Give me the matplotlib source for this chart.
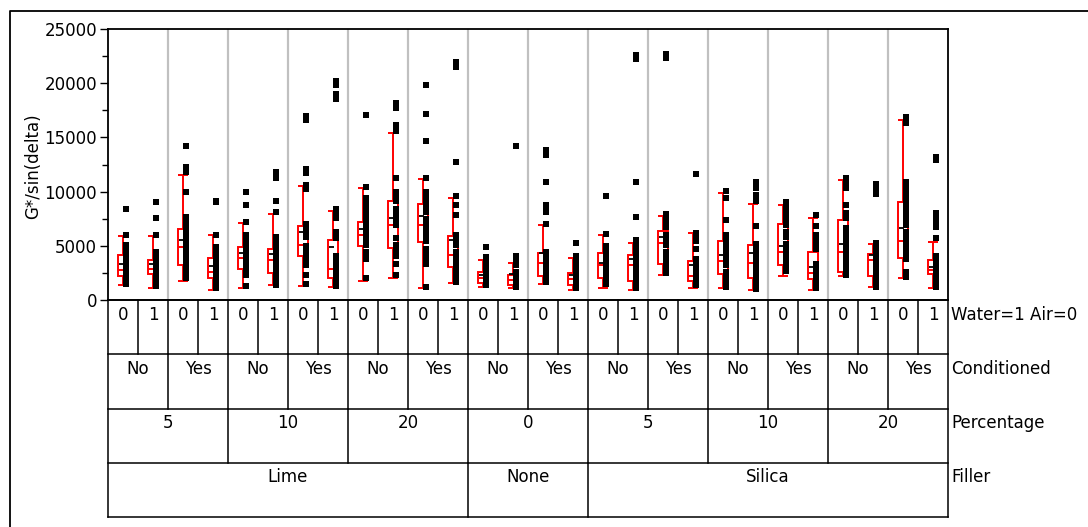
import matplotlib
matplotlib.use('Agg')
import matplotlib.pyplot as plt
from matplotlib.patches import Rectangle
from matplotlib.lines import Line2D

# G*/sin(delta) measurements, one list per Filler / Percentage / Conditioned / Water cell
points = [
    [8400, 6000, 5100, 4900, 4700, 4400, 4100, 3800, 3500, 3300, 3000, 2800, 2600, 2400, 2200, 2000, 1800, 1500],
    [9000, 7600, 6000, 4400, 4200, 4000, 3800, 3600, 3400, 3200, 3000, 2800, 2500, 2200, 1900, 1600, 1300],
    [14200, 12300, 12000, 11800, 10000, 7700, 7500, 7200, 6900, 6500, 6100, 5700, 5400, 5000, 4600, 4200, 3800, 3200, 2800, 2400, 2000],
    [9100, 9000, 6000, 4900, 4300, 3900, 3500, 3200, 2900, 2600, 2300, 2000, 1700, 1400, 1100],
    [10000, 8800, 7200, 6000, 5600, 5200, 4800, 4400, 4000, 3700, 3300, 3000, 2600, 2300, 1300],
    [11800, 11300, 9100, 8100, 5800, 5400, 5000, 4500, 4100, 3700, 3400, 3000, 2600, 2200, 1800, 1400],
    [17000, 16600, 12100, 11700, 10600, 10200, 7000, 6600, 6200, 5800, 5000, 4600, 4100, 3600, 3200, 2300, 1500],
    [20200, 19800, 19000, 18500, 8400, 8000, 7600, 6300, 5700, 4100, 3600, 3100, 2700, 2300, 1900, 1500, 1300],
    [17100, 10400, 9400, 9000, 8500, 8000, 7500, 7200, 6900, 6500, 6200, 5800, 5500, 5100, 4400, 4100, 3800, 2000],
    [18200, 17700, 16100, 15600, 11300, 10000, 9500, 9100, 8400, 7900, 7400, 6900, 5700, 5100, 4600, 4100, 3300, 2300],
    [19800, 17200, 14700, 11300, 10000, 9500, 9000, 8500, 8100, 7500, 7000, 6500, 6000, 5400, 4700, 4200, 3700, 3300, 1200],
    [22000, 21500, 12700, 9600, 8800, 7800, 6000, 5500, 5100, 4400, 3900, 3400, 3000, 2600, 2200, 1700],
    [4900, 4000, 3400, 3100, 2800, 2500, 2200, 2000, 1800, 1600, 1400],
    [14200, 4100, 3800, 3500, 3200, 2600, 2300, 2000, 1700, 1500, 1200],
    [13800, 13400, 10900, 8800, 8400, 8100, 7000, 4400, 4000, 3600, 3200, 2800, 2400, 2000, 1700],
    [5300, 4100, 3500, 3200, 2900, 2600, 2300, 2000, 1700, 1400, 1100],
    [9600, 6100, 5000, 4600, 4200, 3800, 3400, 3000, 2600, 2200, 1800, 1500],
    [22600, 22200, 10900, 7700, 5500, 5000, 4600, 4200, 3800, 3400, 3000, 2600, 2200, 1800, 1400, 1100],
    [22700, 22300, 7900, 7500, 7100, 6700, 6000, 5500, 5100, 4400, 3900, 3400, 2900, 2500],
    [11600, 6200, 5700, 5400, 4700, 3800, 3300, 2900, 2500, 2100, 1700, 1400],
    [10100, 9400, 7400, 6000, 5500, 5000, 4400, 4000, 3600, 3200, 2600, 2200, 1800, 1500, 1200],
    [10900, 10600, 10300, 9700, 9100, 6800, 5200, 4700, 4200, 3700, 3200, 2900, 2500, 2100, 1700, 1300, 1000],
    [9000, 8700, 8400, 8100, 7700, 7300, 6900, 6300, 5800, 5200, 4700, 4200, 3700, 3200, 2700],
    [7800, 6800, 6000, 5500, 5100, 4700, 3300, 3000, 2700, 2400, 2100, 1800, 1500, 1100],
    [11300, 11000, 10600, 10300, 8800, 8000, 7600, 6600, 6100, 5700, 5200, 4700, 4200, 3700, 3200, 2800, 2300],
    [10700, 10300, 9800, 5300, 5100, 4800, 4400, 4000, 3600, 3200, 2800, 2400, 1900, 1500, 1200],
    [16900, 16700, 16300, 10900, 10500, 10100, 9700, 9300, 8900, 8500, 8100, 7700, 7300, 6900, 6300, 5800, 5300, 4800, 4300, 3800, 2600, 2100],
    [13200, 12900, 8000, 7500, 7100, 6700, 5700, 4100, 3700, 3300, 3000, 2700, 2400, 2000, 1600, 1200],
]

# box plot summaries for each cell
whisk_lo = [1390, 1080, 1790, 960, 1110, 1390, 1270, 1240, 1790, 2070, 1110, 1570, 1240, 1080,
            1510, 960, 1110, 960, 2350, 1110, 1080, 960, 2220, 960, 2220, 1240, 2070, 1110]
q1 = [2190, 2380, 3210, 2040, 2900, 2470, 4040, 2040, 4960, 4840, 5370, 3020, 1610, 1360,
      2220, 1360, 2040, 1760, 3330, 1760, 2380, 2070, 3210, 1910, 2590, 2220, 3920, 2380]
median = [2810, 2900, 4870, 2590, 3890, 3670, 5060, 2900, 5980, 6910, 6910, 4130, 2070, 1820,
          3420, 1980, 3270, 3210, 5240, 2220, 3610, 3420, 4440, 2500, 4440, 3670, 5430, 2750]
q3 = [4160, 3730, 6540, 3920, 4870, 4750, 6810, 5580, 7210, 9160, 8880, 5860, 2590, 2280,
      4290, 2530, 4290, 4190, 6380, 3640, 5430, 5030, 6970, 4440, 7370, 4260, 9000, 3730]
whisk_hi = [5860, 5950, 11500, 6010, 7090, 7920, 10540, 8170, 10300, 15440, 11130, 9430, 3730, 3450,
            6940, 3920, 5980, 5270, 7770, 6140, 9830, 8880, 8760, 7610, 11100, 5120, 16620, 5370]
means = [3330, 3360, 5520, 3150, 4320, 4260, 6230, 4900, 6540, 7610, 7770, 5490, 2350, 2440,
         4290, 2280, 3450, 3800, 5770, 3270, 4130, 4290, 5000, 3050, 5120, 4190, 6600, 3000]

water = ['0', '1']
conditioned = ['No', 'Yes']
percentage = ['5', '10', '20', '0', '5', '10', '20']
filler = ['Lime', 'None', 'Silica']
filler_span = [12, 4, 12]
row_titles = ['Water=1 Air=0', 'Conditioned', 'Percentage', 'Filler']

plt.rcParams['font.family'] = 'DejaVu Sans'
fs = 12

W, H = 1088, 527
fig = plt.figure(figsize=(W / 100, H / 100), dpi=100)
fig.patch.set_facecolor('white')


def rect(x0, y0, x1, y1):
    return [x0 / W, 1 - y1 / H, (x1 - x0) / W, (y1 - y0) / H]


n = len(points)
ax = fig.add_axes(rect(108, 29, 948, 300))
ax.set_xlim(-0.5, n - 0.5)
ax.set_ylim(0, 25000)

# light separators between Conditioned pairs
for k in range(2, n, 2):
    ax.axvline(k - 0.5, color='#c0c0c0', lw=1.6, zorder=1)

bw = 0.32
for i in range(n):
    ax.add_patch(Rectangle((i - bw / 2, q1[i]), bw, q3[i] - q1[i], fill=False,
                           ec='red', lw=1.4, zorder=3))
    ax.vlines(i, whisk_lo[i], q1[i], color='red', lw=1.4, zorder=3)
    ax.vlines(i, q3[i], whisk_hi[i], color='red', lw=1.4, zorder=3)
    ax.hlines([whisk_lo[i], whisk_hi[i]], i - 0.18, i + 0.18, color='red', lw=1.4, zorder=3)
    ax.hlines(median[i], i - bw / 2, i + bw / 2, color='red', lw=1.4, zorder=3)
    ax.plot([i + 0.09] * len(points[i]), points[i], 's', color='black',
            ms=3.7, mew=0, zorder=4)
    ax.hlines(means[i], i - 0.12, i + 0.02, color='black', lw=1.3, zorder=5)

ax.set_xticks([])
ax.set_yticks(range(0, 25001, 5000))
ax.set_yticks(range(2500, 25000, 5000), minor=True)
ax.tick_params(axis='y', which='major', length=6, width=1, pad=2, labelsize=fs)
ax.tick_params(axis='y', which='minor', length=4, width=1)
for s in ax.spines.values():
    s.set_color('black')
    s.set_linewidth(1.3)

fig.text(33 / W, 1 - 166 / H, 'G*/sin(delta)', rotation=90, ha='center', va='center', fontsize=fs)

# factor table under the plot
tax = fig.add_axes(rect(108, 300, 948, 517))
tax.set_xlim(-0.5, n - 0.5)
tax.set_ylim(4, 0)
tax.axis('off')
lk = dict(color='black', lw=1.1, clip_on=False)
for r in range(5):
    tax.plot([-0.5, n - 0.5], [r, r], **lk)
for x in (-0.5, n - 0.5):
    tax.plot([x, x], [0, 4], **lk)

ty = 0.27
for i in range(n):
    if i > 0:
        tax.plot([i - 0.5, i - 0.5], [0, 1], **lk)
    tax.text(i, ty, water[i % 2], ha='center', va='center', fontsize=fs)
for j in range(n // 2):
    if j > 0:
        tax.plot([2 * j - 0.5, 2 * j - 0.5], [1, 2], **lk)
    tax.text(2 * j + 0.5, 1 + ty, conditioned[j % 2], ha='center', va='center', fontsize=fs)
for j, p in enumerate(percentage):
    if j > 0:
        tax.plot([4 * j - 0.5, 4 * j - 0.5], [2, 3], **lk)
    tax.text(4 * j + 1.5, 2 + ty, p, ha='center', va='center', fontsize=fs)
start = 0
for j, (f, span) in enumerate(zip(filler, filler_span)):
    if j > 0:
        tax.plot([start - 0.5, start - 0.5], [3, 4], **lk)
    tax.text(start + span / 2 - 0.5, 3 + ty, f, ha='center', va='center', fontsize=fs)
    start += span

for r, t in enumerate(row_titles):
    tax.text(n - 0.5 + 0.1, r + ty, t, ha='left', va='center', fontsize=fs)

# outer frame
fig.add_artist(Line2D([10 / W, 10 / W, 1], [0, 1 - 11 / H, 1 - 11 / H],
                      transform=fig.transFigure, color='black', lw=1.3))

fig.savefig('out.png', dpi=100, facecolor='white')
